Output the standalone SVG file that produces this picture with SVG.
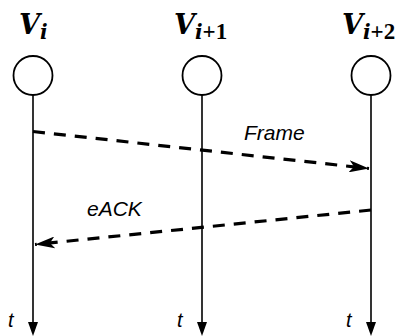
<svg xmlns="http://www.w3.org/2000/svg" width="396" height="336" viewBox="0 0 396 336">
<style>
.title{font-family:"DejaVu Serif","Liberation Serif",serif;font-weight:bold;font-style:italic;font-size:27px;fill:#000}
.sub{font-size:20px}
.subn{font-style:normal;font-family:"Liberation Serif","DejaVu Serif",serif;font-size:23px}
.lbl{font-family:"Liberation Sans",Arial,sans-serif;font-style:italic;font-size:21px;fill:#000}
.tl{font-family:"Liberation Sans",Arial,sans-serif;font-style:italic;font-size:20px;fill:#000}
.node{fill:#fff;stroke:#000;stroke-width:1.8}
.life{stroke:#000;stroke-width:1.6;fill:none}
.msg{stroke:#000;stroke-width:3.2;fill:none;stroke-dasharray:12 9}
</style>
<defs>
<marker id="stealth" viewBox="0 0 20 12" refX="20" refY="6" markerWidth="20" markerHeight="12" markerUnits="userSpaceOnUse" orient="auto">
<path d="M0,0 L20,6 L0,12 L5,6 Z" fill="#000"/>
</marker>
</defs>
<g id="node-vi">
<text class="title" x="19" y="34">V<tspan class="sub" dy="5">i</tspan></text>
<circle class="node" cx="33" cy="75.5" r="19.5"/>
<text class="tl" x="8" y="327">t</text>
</g>
<g id="node-vi1">
<text class="title" x="174" y="34">V<tspan class="sub" dy="5">i</tspan><tspan class="subn">+1</tspan></text>
<circle class="node" cx="202" cy="75.5" r="19.5"/>
<text class="tl" x="177" y="327">t</text>
</g>
<g id="node-vi2">
<text class="title" x="342" y="34">V<tspan class="sub" dy="5">i</tspan><tspan class="subn">+2</tspan></text>
<circle class="node" cx="371" cy="75.5" r="19.5"/>
<text class="tl" x="346" y="327">t</text>
</g>
<g id="connectors">
<line class="life" x1="33" y1="95" x2="33" y2="322"/>
<line class="life" x1="202" y1="95" x2="202" y2="322"/>
<line class="life" x1="371" y1="95" x2="371" y2="322"/>
<path d="M28,322 L38,322 L33,336 Z" fill="#000"/>
<path d="M197,322 L207,322 L202,336 Z" fill="#000"/>
<path d="M366,322 L376,322 L371,336 Z" fill="#000"/>
<line class="msg" x1="33" y1="131.5" x2="369" y2="168.5" marker-end="url(#stealth)"/>
<text class="lbl" x="244" y="140">Frame</text>
<line class="msg" x1="371" y1="210" x2="35" y2="244.5" marker-end="url(#stealth)"/>
<text class="lbl" x="87" y="216">eACK</text>
</g>
</svg>
